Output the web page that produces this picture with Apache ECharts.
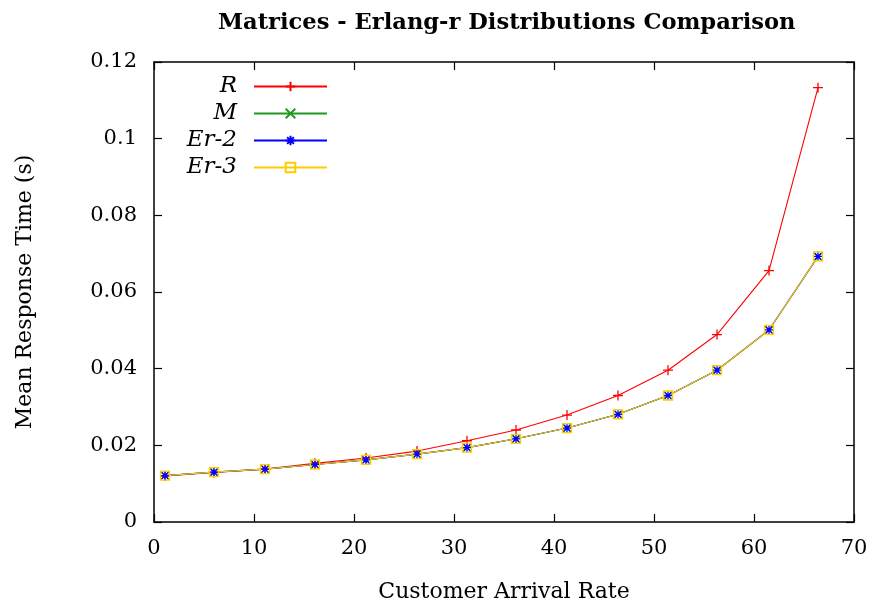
<!DOCTYPE html>
<html><head><meta charset="utf-8">
<script src="https://cdn.jsdelivr.net/npm/echarts@6/dist/echarts.min.js"></script>
<style>html,body{margin:0;padding:0;background:#fff}#c{width:874px;height:605px}</style>
</head><body><div id="c"></div>
<script>
const rates = [1.1, 6.0, 11.1, 16.1, 21.2, 26.3, 31.3, 36.2, 41.3, 46.4, 51.4, 56.3, 61.5, 66.4];
const seriesR   = [0.0120, 0.0129, 0.0138, 0.0153, 0.0167, 0.0185, 0.0212, 0.0240, 0.0279, 0.0330, 0.0396, 0.0489, 0.0656, 0.1133];
const seriesM   = [0.0121, 0.0130, 0.0138, 0.0150, 0.0162, 0.0177, 0.0194, 0.0217, 0.0245, 0.0281, 0.0330, 0.0396, 0.0501, 0.0692];
const seriesEr2 = [0.0121, 0.0130, 0.0138, 0.0150, 0.0162, 0.0177, 0.0194, 0.0217, 0.0245, 0.0281, 0.0330, 0.0396, 0.0501, 0.0693];
const seriesEr3 = [0.0121, 0.0130, 0.0138, 0.0150, 0.0162, 0.0177, 0.0194, 0.0217, 0.0245, 0.0281, 0.0330, 0.0396, 0.0501, 0.0693];
const names = ['R', 'M', 'Er-2', 'Er-3'];
const xTicks = [0, 10, 20, 30, 40, 50, 60, 70];
const yTicks = [0, 0.02, 0.04, 0.06, 0.08, 0.1, 0.12];

const SERIF = 'DejaVu Serif';
const pts = v => rates.map((x, i) => [x, v[i]]);
const symPlus = 'path://M5,0L5,10M0,5L10,5';
const symCross = 'path://M0,0L10,10M10,0L0,10';
const symStar = 'path://M0,5L10,5M5,0L5,10M1.5,1.5L8.5,8.5M8.5,1.5L1.5,8.5';
const symSquare = 'path://M0,0L10,0L10,10L0,10Z';

function mk(name, data, color, symbol, size, fill) {
  return {
    name, type: 'line', data: pts(data), symbol, symbolSize: size,
    showAllSymbol: true, animation: false,
    lineStyle: { color, width: 1.1 },
    itemStyle: { color: fill, borderColor: color, borderWidth: 1.3 },
    emphasis: { disabled: true }
  };
}

function axisBase() {
  return {
    type: 'value',
    axisLine: { show: true, onZero: false, lineStyle: { color: '#000', width: 1.5 } },
    axisTick: { show: true, inside: true, length: 8, lineStyle: { color: '#000', width: 1.2 } },
    splitLine: { show: false },
  };
}

const chart = echarts.init(document.getElementById('c'));
chart.setOption({
  animation: false,
  title: {
    text: 'Matrices - Erlang-r Distributions Comparison',
    left: 213, top: 7,
    textStyle: { fontFamily: 'DejaVu Serif', fontWeight: 'bold', fontSize: 22.6, color: '#000' }
  },
  grid: { left: 154, right: 20, top: 62, bottom: 83, containLabel: false, outerBoundsMode: 'none' },
  legend: {
    orient: 'vertical', left: 152, top: 70, align: 'right',
    itemWidth: 73, itemHeight: 12, itemGap: 4,
    data: names,
    textStyle: { fontFamily: SERIF, fontStyle: 'italic', fontSize: 23, lineHeight: 22, color: '#000', width: 80, align: 'right', padding: [0, 12, 0, 0] }
  },
  xAxis: [
    Object.assign(axisBase(), {
      min: 0, max: 70, interval: 10, position: 'bottom',
      name: 'Customer Arrival Rate', nameLocation: 'middle', nameGap: 59,
      nameTextStyle: { fontFamily: SERIF, fontSize: 22, color: '#000' },
      axisLabel: { margin: 16, fontFamily: SERIF, fontSize: 21, color: '#000',
        formatter: v => xTicks.includes(v) ? String(v) : '' }
    }),
    Object.assign(axisBase(), {
      min: 0, max: 70, interval: 10, position: 'top', axisLabel: { show: false }
    })
  ],
  yAxis: [
    Object.assign(axisBase(), {
      min: 0, max: 0.12, interval: 0.02, position: 'left',
      name: 'Mean Response Time (s)', nameLocation: 'middle', nameGap: 118,
      nameTextStyle: { fontFamily: SERIF, fontSize: 22, color: '#000' },
      axisLabel: { margin: 17, fontFamily: SERIF, fontSize: 21, color: '#000',
        formatter: v => { const t = yTicks.find(y => Math.abs(y - v) < 1e-9); return t === undefined ? '' : String(t); } }
    }),
    Object.assign(axisBase(), {
      min: 0, max: 0.12, interval: 0.02, position: 'right', axisLabel: { show: false }
    })
  ],
  series: [
    mk('R', seriesR, '#ff0000', symPlus, 10, '#ff0000'),
    mk('M', seriesM, '#1f9a1f', symCross, 8, '#1f9a1f'),
    mk('Er-2', seriesEr2, '#0000ff', symStar, 9, '#0000ff'),
    mk('Er-3', seriesEr3, '#ffcc00', symSquare, 9, 'rgba(0,0,0,0)')
  ]
});
</script></body></html>
